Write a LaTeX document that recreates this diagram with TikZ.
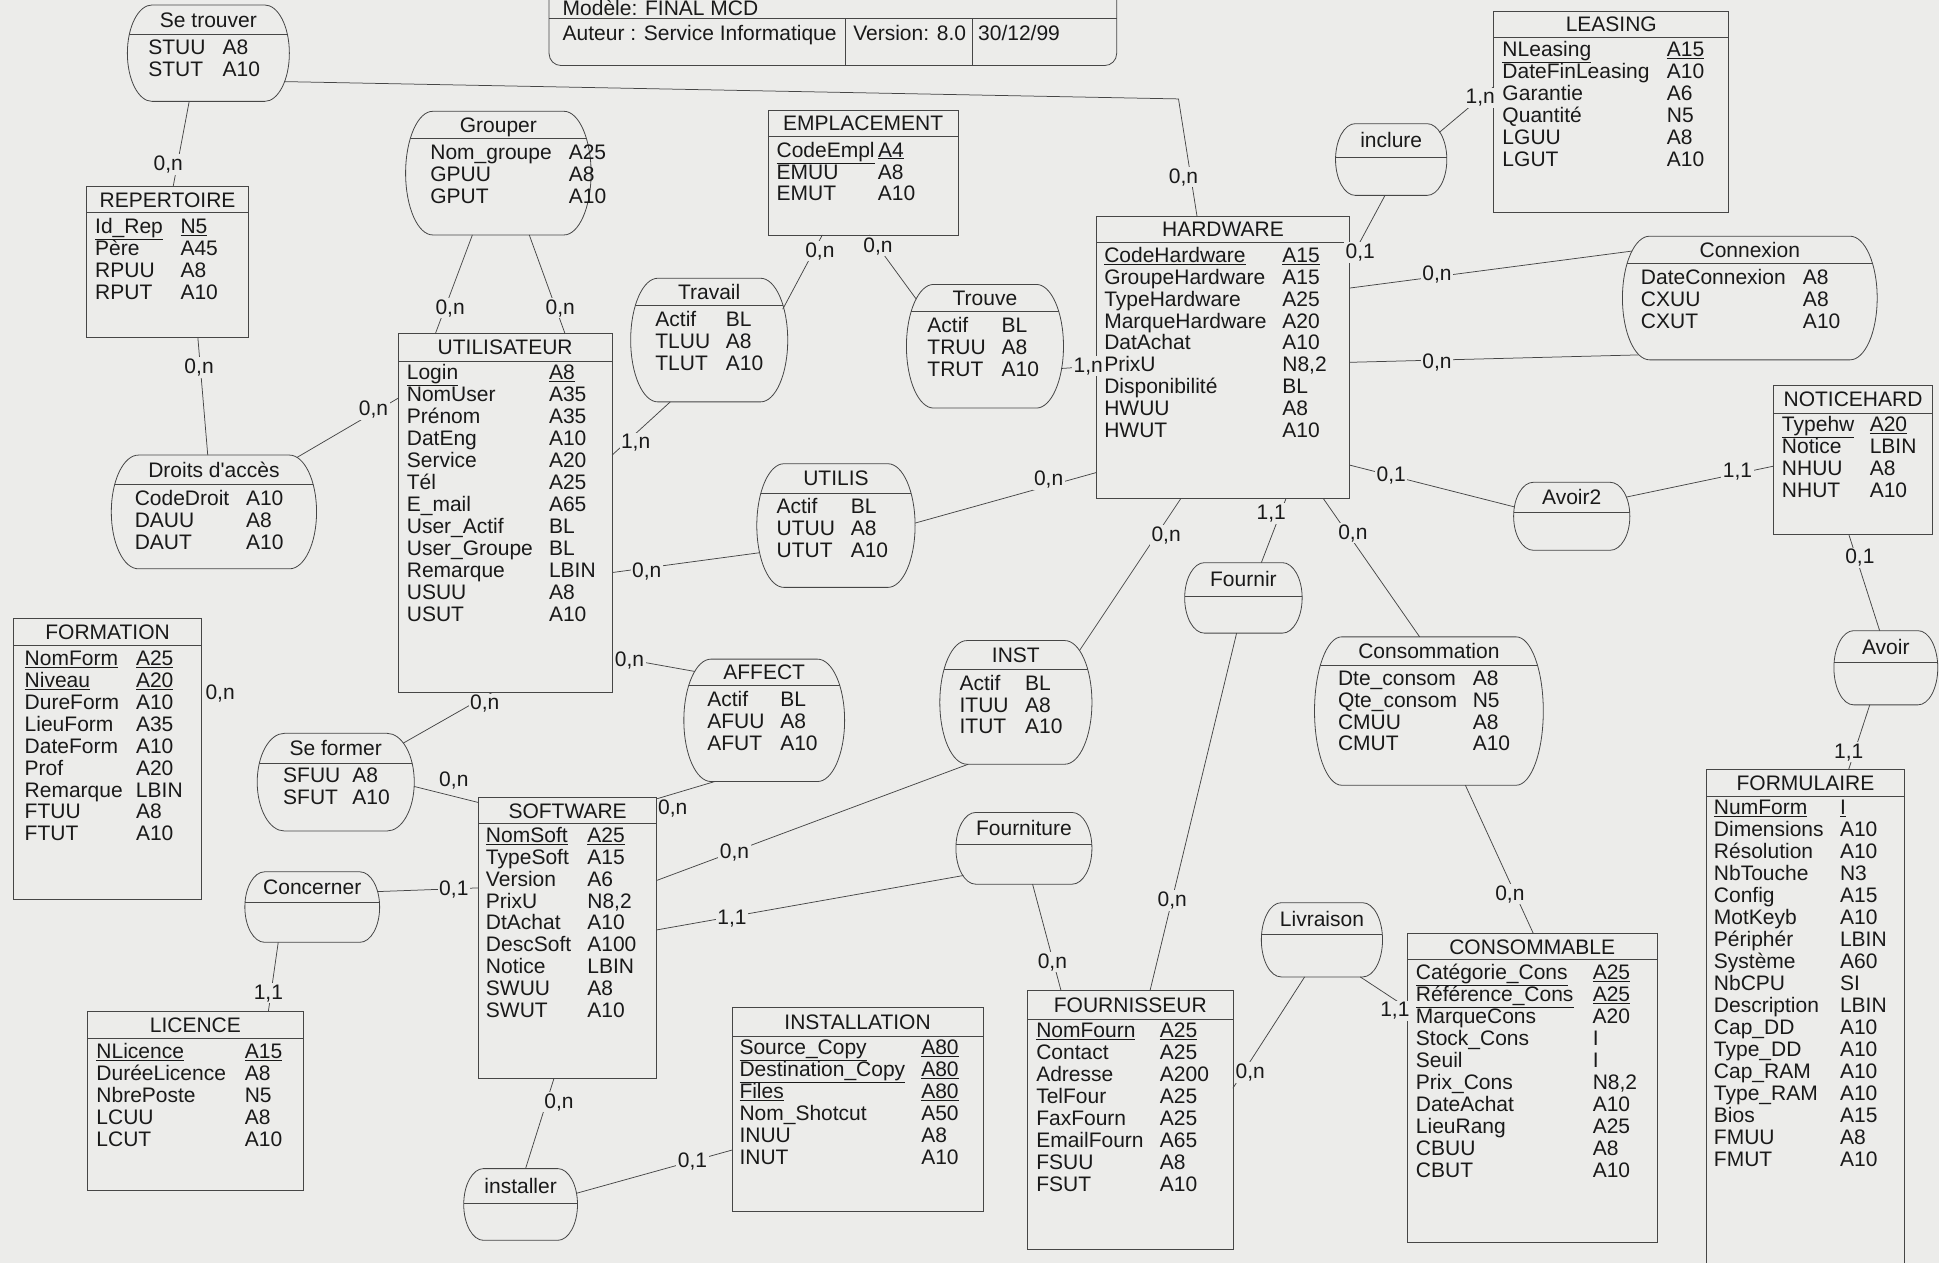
\documentclass[tikz,border=0pt]{standalone}
\usepackage{fontspec}
\setmainfont{Liberation Sans}
\usetikzlibrary{calc,fit}

\definecolor{paper}{RGB}{236,236,234}
\definecolor{ink}{RGB}{25,25,25}
\definecolor{wire}{RGB}{70,70,70}

\newdimen\sunit \sunit=1.2366pt

\tikzset{
  txt/.style={font=\fontsize{21}{21.95}\selectfont, text=ink, inner sep=0pt, outer sep=0pt},
  outline/.style={draw=wire, line width=0.8pt},
  entbox/.style={outline, fill=paper, inner sep=0pt, outer sep=0pt},
  holder/.style={inner sep=0pt, outer sep=0pt},
  link/.style={draw=wire, line width=0.75pt},
  card/.style={txt, anchor=base, fill=paper, inner sep=1.5pt},
}

% attribute rows: plain and identifier
\newcommand\rowa[2]{\makebox[\colw\sunit][l]{#1}&#2\\}
\newcommand\rowk[2]{\makebox[\colw\sunit][l]{\underline{#1}}&\underline{#2}\\}

% association outline: straight top and bottom, half-ellipse sides
\newcommand\ovalcmd[6]{%
  \pgfmathsetmacro\ovy{(#3+#5)/2}%
  \pgfmathsetmacro\ovk{0.5523*(#5-#3)/2}%
  \pgfmathsetmacro\ovkx{0.5523*#6}%
  #1 (#2+#6,#3) -- (#4-#6,#3)
     .. controls (#4-#6+\ovkx,#3) and (#4,\ovy-\ovk) .. (#4,\ovy)
     .. controls (#4,\ovy+\ovk) and (#4-#6+\ovkx,#5) .. (#4-#6,#5)
     -- (#2+#6,#5)
     .. controls (#2+#6-\ovkx,#5) and (#2,\ovy+\ovk) .. (#2,\ovy)
     .. controls (#2,\ovy-\ovk) and (#2+#6-\ovkx,#3) .. (#2+#6,#3) -- cycle;}

% entity: name, x1, y1, x2, y2, separator y, title
\newcommand\entity[7]{%
  \path (#2,#3) coordinate (#1-nw) (#4,#5) coordinate (#1-se);
  \node[entbox, fit=(#1-nw)(#1-se)] (#1) {};
  \draw[outline] (#2,#6) -- (#4,#6);
  \node[txt, anchor=base] (#1-t) at ({(#2+#4)/2},{(#3+#6)/2+6}) {#7};}

% association: name, x1, y1, x2, y2, side radius, separator y, title
\newcommand\assoc[8]{%
  \path (#2,#3) coordinate (#1-nw) (#4,#5) coordinate (#1-se);
  \node[holder, fit=(#1-nw)(#1-se)] (#1) {};
  \ovalcmd{\filldraw[outline, fill=paper]}{#2}{#3}{#4}{#5}{#6}
  \begin{scope}
    \ovalcmd{\clip}{#2}{#3}{#4}{#5}{#6}
    \draw[outline] (#2,#7) -- (#4,#7);
  \end{scope}
  \node[txt, anchor=base] (#1-t) at ({(#2+#4)/2},{(#3+#7)/2+6}) {#8};}

% attribute list: owner, x, first row y, name column width, rows
\newcommand\attrs[5]{%
  \node[txt, anchor=north west] (#1-a) at (#2,#3-6.4)
    {\def\colw{#4}\begin{tabular}{@{}l@{}l@{}}#5\end{tabular}};}

\begin{document}
\begin{tikzpicture}[x=1.2366pt, y=-1.2366pt]
\useasboundingbox (0,0) rectangle (1568,1021);
\fill[paper] (0,0) rectangle (1568,1021);

% ---- cartouche ----
\node[entbox, rounded corners=12pt, fit={(444,-30) (903,53)}] (cart) {};
\draw[outline] ($(cart.north west)+(0,45)$) -- ($(cart.north east)+(0,45)$);
\draw[outline] ($(cart.north west)+(240,45)$) -- ($(cart.south west)+(240,0)$);
\draw[outline] ($(cart.north west)+(342,45)$) -- ($(cart.south west)+(342,0)$);
\node[txt, anchor=base west] (cart-model) at (455,12.8) {Modèle: FINAL MCD};
\node[txt, anchor=base west] (cart-auteur) at (455,33) {Auteur : Service Informatique};
\node[txt, anchor=base west] (cart-version) at (690,33) {Version: 8.0};
\node[txt, anchor=base west] (cart-date) at (791,33) {30/12/99};

% ---- entities and associations ----
\assoc{strouv}{103}{4}{234}{82}{20}{28}{Se trouver}
\attrs{strouv}{120}{38}{60}{\rowa{STUU}{A8}\rowa{STUT}{A10}}

\entity{rep}{70}{151}{201}{273}{172}{REPERTOIRE}
\attrs{rep}{77}{183}{69}{\rowk{Id\_Rep}{N5}\rowa{Père}{A45}\rowa{RPUU}{A8}\rowa{RPUT}{A10}}

\assoc{grp}{328}{90}{478}{190}{22}{112}{Grouper}
\attrs{grp}{348}{123}{112}{\rowa{Nom\_groupe}{A25}\rowa{GPUU}{A8}\rowa{GPUT}{A10}}

\entity{emp}{621}{89}{775}{190}{110}{EMPLACEMENT}
\attrs{emp}{628}{121}{82}{\rowk{CodeEmpl}{A4}\rowa{EMUU}{A8}\rowa{EMUT}{A10}}

\entity{hw}{887}{175}{1091}{403}{196}{HARDWARE}
\attrs{hw}{893}{206}{144}{\rowk{CodeHardware}{A15}\rowa{GroupeHardware}{A15}\rowa{TypeHardware}{A25}\rowa{MarqueHardware}{A20}\rowa{DatAchat}{A10}\rowa{PrixU}{N8,2}\rowa{Disponibilité}{BL}\rowa{HWUU}{A8}\rowa{HWUT}{A10}}

\entity{leas}{1208}{9}{1398}{172}{30}{LEASING}
\attrs{leas}{1215}{40}{133}{\rowk{NLeasing}{A15}\rowa{DateFinLeasing}{A10}\rowa{Garantie}{A6}\rowa{Quantité}{N5}\rowa{LGUU}{A8}\rowa{LGUT}{A10}}

\assoc{incl}{1080}{100}{1170}{158}{16}{127}{inclure}

\assoc{cnx}{1312}{191}{1518}{291}{22}{213}{Connexion}
\attrs{cnx}{1327}{224}{131}{\rowa{DateConnexion}{A8}\rowa{CXUU}{A8}\rowa{CXUT}{A10}}

\assoc{trav}{510}{225}{637}{325}{22}{247}{Travail}
\attrs{trav}{530}{258}{57}{\rowa{Actif}{BL}\rowa{TLUU}{A8}\rowa{TLUT}{A10}}

\assoc{trouve}{733}{230}{860}{330}{22}{252}{Trouve}
\attrs{trouve}{750}{263}{60}{\rowa{Actif}{BL}\rowa{TRUU}{A8}\rowa{TRUT}{A10}}

\entity{util}{322}{270}{495}{560}{292}{UTILISATEUR}
\attrs{util}{329}{301}{115}{\rowk{Login}{A8}\rowa{NomUser}{A35}\rowa{Prénom}{A35}\rowa{DatEng}{A10}\rowa{Service}{A20}\rowa{Tél}{A25}\rowa{E\_mail}{A65}\rowa{User\_Actif}{BL}\rowa{User\_Groupe}{BL}\rowa{Remarque}{LBIN}\rowa{USUU}{A8}\rowa{USUT}{A10}}

\assoc{droits}{90}{368}{256}{460}{22}{392}{Droits d\textquotesingle accès}
\attrs{droits}{109}{403}{90}{\rowa{CodeDroit}{A10}\rowa{DAUU}{A8}\rowa{DAUT}{A10}}

\assoc{utilis}{612}{375}{740}{475}{22}{399}{UTILIS}
\attrs{utilis}{628}{409}{60}{\rowa{Actif}{BL}\rowa{UTUU}{A8}\rowa{UTUT}{A10}}

\assoc{avoir2}{1224}{390}{1318}{445}{16}{414}{Avoir2}

\entity{notice}{1434}{312}{1563}{432}{334}{NOTICEHARD}
\attrs{notice}{1441}{343}{71}{\rowk{Typehw}{A20}\rowa{Notice}{LBIN}\rowa{NHUU}{A8}\rowa{NHUT}{A10}}

\assoc{avoir}{1483}{510}{1567}{570}{16}{536}{Avoir}

\entity{formul}{1380}{622}{1540}{1040}{644}{FORMULAIRE}
\attrs{formul}{1386}{653}{102}{\rowk{NumForm}{I}\rowa{Dimensions}{A10}\rowa{Résolution}{A10}\rowa{NbTouche}{N3}\rowa{Config}{A15}\rowa{MotKeyb}{A10}\rowa{Périphér}{LBIN}\rowa{Système}{A60}\rowa{NbCPU}{SI}\rowa{Description}{LBIN}\rowa{Cap\_DD}{A10}\rowa{Type\_DD}{A10}\rowa{Cap\_RAM}{A10}\rowa{Type\_RAM}{A10}\rowa{Bios}{A15}\rowa{FMUU}{A8}\rowa{FMUT}{A10}}

\assoc{inst}{760}{518}{883}{618}{22}{541}{INST}
\attrs{inst}{776}{552}{53}{\rowa{Actif}{BL}\rowa{ITUU}{A8}\rowa{ITUT}{A10}}

\assoc{fournir}{958}{455}{1053}{512}{16}{482}{Fournir}

\assoc{consom}{1063}{515}{1248}{635}{22}{538}{Consommation}
\attrs{consom}{1082}{548}{109}{\rowa{Dte\_consom}{A8}\rowa{Qte\_consom}{N5}\rowa{CMUU}{A8}\rowa{CMUT}{A10}}

\assoc{affect}{553}{533}{683}{632}{22}{554}{AFFECT}
\attrs{affect}{572}{565}{59}{\rowa{Actif}{BL}\rowa{AFUU}{A8}\rowa{AFUT}{A10}}

\assoc{seformer}{208}{593}{335}{672}{22}{617}{Se former}
\attrs{seformer}{229}{627}{56}{\rowa{SFUU}{A8}\rowa{SFUT}{A10}}

\entity{formation}{11}{500}{163}{727}{522}{FORMATION}
\attrs{formation}{20}{532}{90}{\rowk{NomForm}{A25}\rowk{Niveau}{A20}\rowa{DureForm}{A10}\rowa{LieuForm}{A35}\rowa{DateForm}{A10}\rowa{Prof}{A20}\rowa{Remarque}{LBIN}\rowa{FTUU}{A8}\rowa{FTUT}{A10}}

\entity{soft}{387}{645}{531}{872}{666}{SOFTWARE}
\attrs{soft}{393}{675}{82}{\rowk{NomSoft}{A25}\rowa{TypeSoft}{A15}\rowa{Version}{A6}\rowa{PrixU}{N8,2}\rowa{DtAchat}{A10}\rowa{DescSoft}{A100}\rowa{Notice}{LBIN}\rowa{SWUU}{A8}\rowa{SWUT}{A10}}

\assoc{concern}{198}{705}{307}{762}{16}{730}{Concerner}

\entity{lic}{71}{818}{245}{963}{840}{LICENCE}
\attrs{lic}{78}{850}{120}{\rowk{NLicence}{A15}\rowa{DuréeLicence}{A8}\rowa{NbrePoste}{N5}\rowa{LCUU}{A8}\rowa{LCUT}{A10}}

\assoc{fourniture}{773}{657}{883}{715}{16}{683}{Fourniture}

\assoc{installer}{375}{945}{467}{1003}{16}{973}{installer}

\entity{installation}{592}{815}{795}{980}{838}{INSTALLATION}
\attrs{installation}{598}{847}{147}{\rowk{Source\_Copy}{A80}\rowk{Destination\_Copy}{A80}\rowk{Files}{A80}\rowa{Nom\_Shotcut}{A50}\rowa{INUU}{A8}\rowa{INUT}{A10}}

\entity{fourn}{831}{801}{997}{1010}{824}{FOURNISSEUR}
\attrs{fourn}{838}{833}{100}{\rowk{NomFourn}{A25}\rowa{Contact}{A25}\rowa{Adresse}{A200}\rowa{TelFour}{A25}\rowa{FaxFourn}{A25}\rowa{EmailFourn}{A65}\rowa{FSUU}{A8}\rowa{FSUT}{A10}}

\assoc{livr}{1020}{730}{1118}{790}{16}{756}{Livraison}

\entity{consable}{1138}{755}{1340}{1005}{776}{CONSOMMABLE}
\attrs{consable}{1145}{786}{143}{\rowk{Catégorie\_Cons}{A25}\rowk{Référence\_Cons}{A25}\rowa{MarqueCons}{A20}\rowa{Stock\_Cons}{I}\rowa{Seuil}{I}\rowa{Prix\_Cons}{N8,2}\rowa{DateAchat}{A10}\rowa{LieuRang}{A25}\rowa{CBUU}{A8}\rowa{CBUT}{A10}}

% ---- links ----
\coordinate (strouv-bend) at (953,80);
\draw[link] ($(strouv.north west)+(50,78)$) -- ($(rep.north west)+(70,0)$);
\draw[link] ($(strouv.north west)+(127,62)$) -- (strouv-bend) -- ($(hw.north west)+(81,0)$);
\draw[link] ($(rep.north west)+(90,122)$) -- ($(droits.north west)+(78,0)$);
\draw[link] ($(droits.north west)+(150,2)$) -- ($(util.north west)+(0,52)$);
\draw[link] ($(grp.north west)+(54,100)$) -- ($(util.north west)+(30,0)$);
\draw[link] ($(grp.north west)+(100,100)$) -- ($(util.north west)+(135,0)$);
\draw[link] ($(emp.north west)+(44,101)$) -- ($(trav.north west)+(123,25)$);
\draw[link] ($(emp.north west)+(82,101)$) -- ($(trouve.north west)+(8,12)$);
\draw[link] ($(util.north west)+(173,98)$) -- ($(trav.north west)+(32,100)$);
\draw[link] ($(trouve.north west)+(125,68)$) -- ($(hw.north west)+(0,121)$);
\draw[link] ($(hw.north west)+(204,37)$) -- ($(incl.north west)+(40,58)$);
\draw[link] ($(incl.north west)+(84,7)$) -- ($(leas.north west)+(0,61)$);
\draw[link] ($(hw.north west)+(204,58)$) -- ($(cnx.north west)+(8,12)$);
\draw[link] ($(hw.north west)+(204,118)$) -- ($(cnx.north west)+(13,96)$);
\draw[link] ($(hw.north west)+(0,207)$) -- ($(utilis.north west)+(128,48)$);
\draw[link] ($(util.north west)+(173,193)$) -- ($(utilis.north west)+(2,72)$);
\draw[link] ($(hw.north west)+(204,201)$) -- ($(avoir2.north west)+(1,20)$);
\draw[link] ($(avoir2.north west)+(91,12)$) -- ($(notice.north west)+(0,65)$);
\draw[link] ($(notice.north west)+(61,120)$) -- ($(avoir.north west)+(37,0)$);
\draw[link] ($(avoir.north west)+(29,60)$) -- ($(formul.north west)+(115,0)$);
\draw[link] ($(hw.north west)+(153,228)$) -- ($(fournir.north west)+(62,0)$);
\draw[link] ($(hw.north west)+(68,228)$) -- ($(inst.north west)+(113,8)$);
\draw[link] ($(hw.north west)+(183,228)$) -- ($(consom.north west)+(85,0)$);
\draw[link] ($(util.north west)+(173,261)$) -- ($(affect.north west)+(9,10)$);
\draw[link] ($(util.north west)+(76,290)$) -- ($(seformer.north west)+(118,8)$);
\draw[link] ($(soft.north west)+(144,1)$) -- ($(affect.north west)+(25,99)$);
\draw[link] ($(seformer.north west)+(127,43)$) -- ($(soft.north west)+(0,4)$);
\draw[link] ($(soft.north west)+(144,67)$) -- ($(inst.north west)+(23,100)$);
\draw[link] ($(concern.north west)+(107,16)$) -- ($(soft.north west)+(0,73)$);
\draw[link] ($(soft.north west)+(144,107)$) -- ($(fourniture.north west)+(6,51)$);
\draw[link] ($(concern.north west)+(27,57)$) -- ($(lic.north west)+(146,0)$);
\draw[link] ($(soft.north west)+(61,227)$) -- ($(installer.north west)+(50,0)$);
\draw[link] ($(installer.north west)+(91,20)$) -- ($(installation.north west)+(0,115)$);
\draw[link] ($(fourniture.north west)+(62,58)$) -- ($(fourn.north west)+(27,0)$);
\draw[link] ($(fournir.north west)+(42,57)$) -- ($(fourn.north west)+(99,0)$);
\draw[link] ($(consom.north west)+(122,120)$) -- ($(consable.north west)+(102,0)$);
\draw[link] ($(livr.north west)+(35,60)$) -- ($(fourn.north west)+(166,79)$);
\draw[link] ($(livr.north west)+(80,60)$) -- ($(consable.north west)+(0,60)$);

% ---- cardinalities ----
\node[card] (c01) at (136,138) {0,n};
\node[card] (c02) at (957,148) {0,n};
\node[card] (c03) at (161,302) {0,n};
\node[card] (c04) at (302,336) {0,n};
\node[card] (c05) at (364,254) {0,n};
\node[card] (c06) at (453,254) {0,n};
\node[card] (c07) at (663,208) {0,n};
\node[card] (c08) at (710,204) {0,n};
\node[card] (c09) at (514,363) {1,n};
\node[card] (c10) at (880,301) {1,n};
\node[card] (c11) at (1100,209) {0,1};
\node[card] (c12) at (1197,84) {1,n};
\node[card] (c13) at (1162,227) {0,n};
\node[card] (c14) at (1162,298) {0,n};
\node[card] (c15) at (848,393) {0,n};
\node[card] (c16) at (523,467) {0,n};
\node[card] (c17) at (1125,389) {0,1};
\node[card] (c18) at (1405,386) {1,1};
\node[card] (c19) at (1504,456) {0,1};
\node[card] (c20) at (1495,613) {1,1};
\node[card] (c21) at (1028,420) {1,1};
\node[card] (c22) at (943,438) {0,n};
\node[card] (c23) at (1094,436) {0,n};
\node[card] (c24) at (509,539) {0,n};
\node[card] (c25) at (392,574) {0,n};
\node[card] (c26) at (178,566) {0,n};
\node[card] (c27) at (544,659) {0,n};
\node[card] (c28) at (367,636) {0,n};
\node[card] (c29) at (594,694) {0,n};
\node[card] (c30) at (367,724) {0,1};
\node[card] (c31) at (592,748) {1,1};
\node[card] (c32) at (217,808) {1,1};
\node[card] (c33) at (452,896) {0,n};
\node[card] (c34) at (560,944) {0,1};
\node[card] (c35) at (851,783) {0,n};
\node[card] (c36) at (948,733) {0,n};
\node[card] (c37) at (1221,728) {0,n};
\node[card] (c38) at (1011,872) {0,n};
\node[card] (c39) at (1128,822) {1,1};
\end{tikzpicture}
\end{document}
